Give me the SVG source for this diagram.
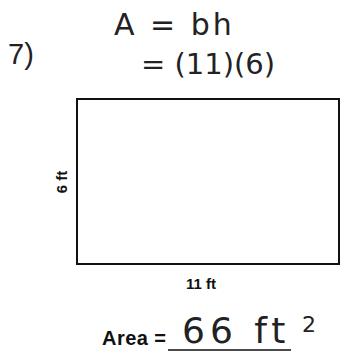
<svg xmlns="http://www.w3.org/2000/svg" width="345" height="360" viewBox="0 0 345 360">
<style>
.hand{font-family:"DejaVu Sans","Liberation Sans",sans-serif;fill:#222;}
.print{font-family:"Liberation Sans",Arial,sans-serif;fill:#111;font-weight:bold;}
</style>
<rect width="345" height="360" fill="#fff"/>
<text x="8" y="64" font-size="29" font-family="Liberation Sans, sans-serif" fill="#222">7)</text>
<text class="hand" x="114" y="35" font-size="30" letter-spacing="3">A = bh</text>
<text class="hand" x="141" y="74" font-size="29">= (11)(6)</text>
<g id="rect">
<rect x="77" y="99" width="262" height="165" fill="none" stroke="#111" stroke-width="2"/>
</g>
<text class="print" x="0" y="0" font-size="15" text-anchor="middle" transform="translate(67 182) rotate(-90)">6 ft</text>
<text class="print" x="201" y="289" font-size="15" text-anchor="middle">11 ft</text>
<text class="print" x="102" y="345" font-size="20" style="font-weight:600" textLength="64">Area =</text>
<line x1="168" y1="350" x2="291" y2="350" stroke="#111" stroke-width="1.5"/>
<text class="hand" x="182" y="343" font-size="36" letter-spacing="5">66 ft</text>
<text class="hand" x="302" y="332" font-size="22">2</text>
</svg>
